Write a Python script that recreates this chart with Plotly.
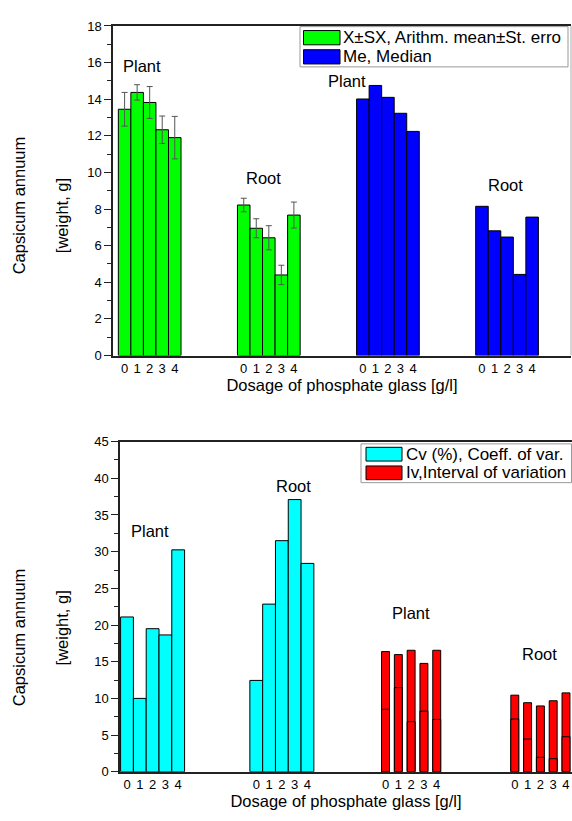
import plotly.graph_objects as go

W, H = 572, 821

# ---------------- data ----------------
doses = ["0", "1", "2", "3", "4"]

# top chart: arithmetic mean ± standard error, and median
mean_plant = [13.45, 14.37, 13.82, 12.33, 11.90]
se_plant = [0.92, 0.42, 0.87, 0.75, 1.16]
mean_root = [8.22, 6.95, 6.43, 4.40, 7.67]
se_root = [0.37, 0.52, 0.66, 0.53, 0.71]
median_plant = [14.01, 14.75, 14.10, 13.23, 12.24]
median_root = [8.15, 6.81, 6.47, 4.43, 7.56]

# bottom chart: coefficient of variation and interval of variation
cv_plant = [21.1, 10.0, 19.5, 18.65, 30.25]
cv_root = [12.45, 22.85, 31.5, 37.1, 28.4]
iv_plant_top = [16.38, 15.97, 16.56, 14.77, 16.56]
iv_plant_mid = [8.52, 11.47, 6.83, 8.26, 7.14]
iv_root_top = [10.44, 9.41, 8.97, 9.68, 10.75]
iv_root_mid = [7.19, 4.46, 1.97, 1.78, 4.78]

group_labels = ["Plant", "Root", "Plant", "Root"]
legend_top = ["X±SX, Arithm. mean±St. erro", "Me, Median"]
legend_bot = ["Cv (%), Coeff. of var.", "Iv,Interval of variation"]
x_title = "Dosage of phosphate glass [g/l]"
y_title1 = "Capsicum annuum"
y_title2 = "[weight, g]"

# ---------------- styling ----------------
FONT = "Arial, Liberation Sans, sans-serif"
GREEN, BLUE, CYAN, RED = "#00ff00", "#0000ff", "#00ffff", "#ff0000"
AX = "#222222"
TOP_STEP = 9.5
BOT_STEP = 10.1


def px(x):
    return x / W


def py(y):
    return 1 - y / H


def xs(g, step):
    return [g * step + i for i in range(len(doses))]


fig = go.Figure()
outline = dict(color="black", width=1)
err_style = dict(type="data", color="#555555", thickness=1, width=3, visible=True)

# top chart
fig.add_trace(go.Bar(x=xs(0, TOP_STEP), y=mean_plant, width=1,
                     marker=dict(color=GREEN, line=outline, opacity=1),
                     error_y=dict(array=se_plant, **err_style),
                     xaxis="x", yaxis="y", showlegend=False))
fig.add_trace(go.Bar(x=xs(1, TOP_STEP), y=mean_root, width=1,
                     marker=dict(color=GREEN, line=outline, opacity=1),
                     error_y=dict(array=se_root, **err_style),
                     xaxis="x", yaxis="y", showlegend=False))
fig.add_trace(go.Bar(x=xs(2, TOP_STEP), y=median_plant, width=1,
                     marker=dict(color=BLUE, line=outline, opacity=1),
                     xaxis="x", yaxis="y", showlegend=False))
fig.add_trace(go.Bar(x=xs(3, TOP_STEP), y=median_root, width=1,
                     marker=dict(color=BLUE, line=outline, opacity=1),
                     xaxis="x", yaxis="y", showlegend=False))

# bottom chart
fig.add_trace(go.Bar(x=xs(0, BOT_STEP), y=cv_plant, width=1,
                     marker=dict(color=CYAN, line=outline, opacity=1),
                     xaxis="x2", yaxis="y2", showlegend=False))
fig.add_trace(go.Bar(x=xs(1, BOT_STEP), y=cv_root, width=1,
                     marker=dict(color=CYAN, line=outline, opacity=1),
                     xaxis="x2", yaxis="y2", showlegend=False))
for g, top, mid in [(2, iv_plant_top, iv_plant_mid), (3, iv_root_top, iv_root_mid)]:
    fig.add_trace(go.Bar(x=xs(g, BOT_STEP), y=top, width=0.62,
                         marker=dict(color=RED, line=outline, opacity=1),
                         xaxis="x2", yaxis="y2", showlegend=False))
    fig.add_trace(go.Bar(x=xs(g, BOT_STEP), y=mid, width=0.62,
                         marker=dict(color=RED, line=outline, opacity=1),
                         xaxis="x2", yaxis="y2", showlegend=False))

tick_font = dict(family=FONT, size=13, color="black")
title_font = dict(family=FONT, size=16.5, color="black")

common_x = dict(showline=True, linecolor=AX, linewidth=1.5, mirror=True,
                showgrid=False, zeroline=False, ticks="", tickfont=tick_font,
                title=dict(text=x_title, font=title_font, standoff=4))
common_y = dict(showline=True, linecolor=AX, linewidth=1.5, mirror=False,
                showgrid=False, zeroline=False, ticks="outside", ticklen=7,
                tickcolor=AX, tickfont=tick_font)

fig.update_layout(
    width=W, height=H,
    margin=dict(l=0, r=0, t=0, b=0),
    paper_bgcolor="white", plot_bgcolor="white",
    barmode="overlay",
    font=dict(family=FONT, color="black"),
    xaxis=dict(domain=[px(113), px(571)], range=[-0.925, 35.6], anchor="y",
               tickvals=[v for g in range(4) for v in xs(g, TOP_STEP)],
               ticktext=doses * 4, **common_x),
    yaxis=dict(domain=[py(355), py(19.3)], range=[0, 18], dtick=2, anchor="x",
               minor=dict(ticks="outside", ticklen=4, dtick=1, tickcolor=AX),
               **common_y),
    xaxis2=dict(domain=[px(120), 1], range=[-0.547, 34.77], anchor="y2",
                tickvals=[v for g in range(4) for v in xs(g, BOT_STEP)],
                ticktext=doses * 4, **common_x),
    yaxis2=dict(domain=[py(779), py(442.7)], range=[0, 45], dtick=5, anchor="x2",
                minor=dict(ticks="outside", ticklen=4, dtick=2.5, tickcolor=AX),
                **common_y),
)

shapes = []
annotations = []

# right frame of top chart
shapes.append(dict(type="line", xref="paper", yref="paper",
                   x0=px(571), x1=px(571), y0=py(355), y1=py(19.3),
                   line=dict(color="#aaaaaa", width=1)))

# group labels
ann_font = dict(family=FONT, size=16.5, color="black")
top_label_pos = [(1.4, 15.8), (11.1, 9.7), (17.7, 15.0), (30.4, 9.3)]
for lab, (x, y) in zip(group_labels, top_label_pos):
    annotations.append(dict(text=lab, x=x, y=y, xref="x", yref="y",
                            xanchor="center", yanchor="middle",
                            showarrow=False, font=ann_font))
bot_label_pos = [(1.8, 32.8), (13.0, 39.0), (22.2, 21.7), (32.2, 16.0)]
for lab, (x, y) in zip(group_labels, bot_label_pos):
    annotations.append(dict(text=lab, x=x, y=y, xref="x2", yref="y2",
                            xanchor="center", yanchor="middle",
                            showarrow=False, font=ann_font))

# y-axis titles
for cy1, cy2 in [(202, 212), (642, 632)]:
    annotations.append(dict(text=y_title1, x=px(19), y=py(cy1), xref="paper", yref="paper",
                            xanchor="center", yanchor="middle",
                            textangle=-90, showarrow=False, font=title_font))
    annotations.append(dict(text=y_title2, x=px(62), y=py(cy2), xref="paper", yref="paper",
                            xanchor="center", yanchor="middle",
                            textangle=-90, showarrow=False, font=title_font))


# custom legends
def legend(box, items):
    x0, y0, x1, y1 = box
    shapes.append(dict(type="rect", xref="paper", yref="paper",
                       x0=px(x0), x1=px(x1), y0=py(y1), y1=py(y0),
                       line=dict(color="#999999", width=1), fillcolor="white"))
    for (label, color, sx0, sx1, sy0, sy1, tx) in items:
        shapes.append(dict(type="rect", xref="paper", yref="paper",
                           x0=px(sx0), x1=px(sx1), y0=py(sy1), y1=py(sy0),
                           line=dict(color="black", width=1), fillcolor=color))
        annotations.append(dict(text=label, x=px(tx), y=py((sy0 + sy1) / 2),
                                xref="paper", yref="paper", xanchor="left",
                                yanchor="middle", showarrow=False,
                                font=dict(family=FONT, size=17, color="black")))


legend((300, 20, 568, 61), [
    (legend_top[0], GREEN, 303.5, 340, 24, 38.5, 341),
    (legend_top[1], BLUE, 303.5, 340, 43.5, 58, 341),
])
legend((361, 445, 571.5, 484.5), [
    (legend_bot[0], CYAN, 366, 402, 448.5, 462.5, 404),
    (legend_bot[1], RED, 366, 402, 467.5, 481.5, 404),
])

fig.update_layout(shapes=shapes, annotations=annotations)
fig.write_html(
    "out.html",
    config={"displayModeBar": False},
    post_script="document.body.style.margin='0';document.body.style.overflow='hidden';",
)
